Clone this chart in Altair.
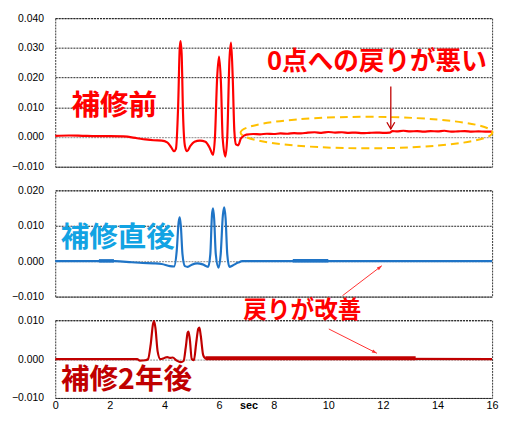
import altair as alt
import pandas as pd

# ---------------- data ----------------
# Panel 1: 補修前 (before repair)
t1 = [0.0, 0.5, 1.0, 1.5, 2.0, 2.5, 3.0, 3.3, 3.6, 3.9, 4.1, 4.25, 4.35, 4.42,
      4.50, 4.56, 4.59, 4.63, 4.68, 4.75, 4.83, 4.95, 5.1, 5.3, 5.5, 5.65, 5.78,
      5.85, 5.93, 6.0, 6.07, 6.13, 6.23, 6.30, 6.38, 6.44, 6.50, 6.56, 6.62, 6.70,
      6.8, 7.0, 7.25, 7.5, 7.75, 8.0, 8.25, 8.5, 8.75, 9.0, 9.25, 9.5, 9.75, 10.0,
      10.25, 10.5, 10.75, 11.0, 11.25, 11.5, 11.75, 12.0, 12.25, 12.35, 12.5, 12.75,
      13.0, 13.25, 13.5, 13.75, 14.0, 14.25, 14.5, 14.75, 15.0, 15.25, 15.5, 15.75, 16.0]
v1 = [0.0004, 0.0005, 0.0004, 0.0003, 0.0003, 0.0002, -0.0004, -0.0008, -0.0011, -0.0012,
      -0.0018, -0.0035, -0.0048, -0.0040,
      0.0100, 0.0300, 0.0323, 0.0280, 0.0080, -0.0030, -0.0048, -0.0030, -0.0016, -0.0012,
      -0.0016, -0.0035, -0.0060,
      0.0000, 0.0200, 0.0271, 0.0180, 0.0000, -0.0066, 0.0000, 0.0260, 0.0318, 0.0200,
      0.0020, -0.0025, -0.0028,
      -0.0005, 0.0008, 0.0010, 0.0009, 0.0011, 0.0010, 0.0012, 0.0011, 0.0013, 0.0012,
      0.0015, 0.0016, 0.0014, 0.0017,
      0.0015, 0.0016, 0.0014, 0.0015, 0.0013, 0.0014, 0.0015, 0.0014, 0.0015, 0.0020,
      0.0019, 0.0021,
      0.0019, 0.0020, 0.0018, 0.0020, 0.0019, 0.0021, 0.0018, 0.0019, 0.0020, 0.0018,
      0.0019, 0.0018, 0.0018]

# Panel 2: 補修直後 (just after repair)
t2 = [0.0, 1.6, 2.2, 2.8, 3.2, 3.6, 3.9, 4.2, 4.35, 4.45, 4.52, 4.56, 4.60, 4.66,
      4.75, 4.85, 5.0, 5.2, 5.4, 5.6, 5.68, 5.74, 5.78, 5.82, 5.88, 5.98, 6.06,
      6.14, 6.19, 6.24, 6.30, 6.38, 6.5, 6.7, 6.85, 16.0]
v2 = [0.0, 0.0, 0.0, -0.0003, -0.0005, -0.0006, -0.0008, -0.0014, -0.0015, 0.0030,
      0.0110, 0.0124, 0.0100, 0.0020,
      -0.0014, -0.0016, -0.0010, -0.0006, -0.0009, -0.0016, 0.0020, 0.0130, 0.0149,
      0.0120, 0.0020, -0.0018, 0.0020,
      0.0130, 0.0152, 0.0120, 0.0020, -0.0016, -0.0012, -0.0004, 0.0, 0.0]
band2_start = [1.6, 8.7]
band2_end = [2.15, 10.0]
band2_level = 0.0001

# Panel 3: 補修2年後 (two years after repair)
t3 = [0.0, 3.0, 3.1, 3.3, 3.4, 3.5, 3.58, 3.62, 3.67, 3.75, 3.85, 4.0, 4.1, 4.2,
      4.3, 4.45, 4.6, 4.7, 4.78, 4.85, 4.88, 4.93, 5.0, 5.08, 5.16, 5.24, 5.28,
      5.33, 5.42, 5.5, 16.0]
v3 = [0.0, 0.0, -0.0004, -0.0003, 0.0, 0.0040, 0.0090, 0.0098, 0.0080, 0.0020, 0.0,
      0.0003, 0.0005, 0.0003,
      0.0004, -0.0004, -0.0008, -0.0005, 0.0030, 0.0068, 0.0071, 0.0050, 0.0, -0.0003,
      0.0040, 0.0078, 0.0081,
      0.0060, 0.0010, 0.0002, 0.0]
band3_start = [5.5]
band3_end = [13.2]
band3_level = 0.0002

# axis ticks
x_ticks = [0, 2, 4, 6, 8, 10, 12, 14, 16]
y1_ticks = [-0.01, 0.0, 0.01, 0.02, 0.03, 0.04]
y2_ticks = [-0.01, 0.0, 0.01, 0.02]
y3_ticks = [-0.01, 0.0, 0.01]

# ---------------- helpers ----------------
LABEL_FONT = "Liberation Sans"
JP_FONT = "Noto Sans CJK JP"
xs = alt.Scale(domain=[0, 16], nice=False, zero=False)
W = 444
H1, H2, H3 = 151, 108, 79
GAP = 24
X_LABEL_PAD = 2


def yaxis(vals):
    return alt.Axis(
        values=vals, format=".3f", grid=True,
        gridColor=alt.condition("datum.value == 0", alt.value("#8a8a8a"), alt.value("#222222")),
        gridDash=[2, 1], gridWidth=1, ticks=False, domain=False,
        labelPadding=12, labelFontSize=10.5, labelFont=LABEL_FONT,
        labelColor="#000000", title=None,
    )


def encs(dom, ticks, show_x):
    if show_x:
        xa = alt.Axis(values=x_ticks, ticks=False, domain=False, grid=False,
                      labelPadding=X_LABEL_PAD, labelFontSize=11, labelFont=LABEL_FONT,
                      labelColor="#000000", labelFlush=False, title=None, format="d")
    else:
        xa = None
    x = alt.X("t:Q", scale=xs, axis=xa)
    y = alt.Y("v:Q", scale=alt.Scale(domain=dom, nice=False, zero=False), axis=yaxis(ticks))
    return x, y


def line(t, v, x, y, color, width):
    return alt.Chart(pd.DataFrame({"t": t, "v": v})).mark_line(
        color=color, strokeWidth=width, interpolate="monotone"
    ).encode(x=x, y=y)


def band(starts, ends, level, x, y, color, width):
    rows = []
    for i, (a, b) in enumerate(zip(starts, ends)):
        rows.append({"t": a, "v": level, "seg": i})
        rows.append({"t": b, "v": level, "seg": i})
    return alt.Chart(pd.DataFrame(rows)).mark_line(
        color=color, strokeWidth=width
    ).encode(x=x, y=y, detail="seg:N")


def label(text, t, v, x, y, color, size, weight="bold", font=JP_FONT, baseline="middle"):
    return alt.Chart(pd.DataFrame({"t": [t], "v": [v], "s": [text]})).mark_text(
        font=font, fontSize=size, fontWeight=weight, color=color,
        align="center", baseline=baseline
    ).encode(x=x, y=y, text="s:N")


def arrow(ta, va, tb, vb, x, y, color, width, head_shape, head_size, angle, filled):
    df = pd.DataFrame({"t": [ta], "v": [va], "t2": [tb], "v2": [vb]})
    shaft = alt.Chart(df).mark_rule(color=color, strokeWidth=width).encode(
        x=x, y=y, x2="t2:Q", y2="v2:Q")
    head = alt.Chart(pd.DataFrame({"t": [tb], "v": [vb]})).mark_point(
        shape=head_shape, size=head_size, angle=angle, filled=filled,
        color=color, strokeWidth=width, opacity=1
    ).encode(x=x, y=y)
    return shaft + head


TIP = "M 0 0 L -0.55 1.6 L 0.55 1.6 Z"          # filled head, tip at origin
VEE = "M -1 -1.7 L 0 0 L 1 -1.7"                 # open head, tip at origin
# wide ellipse drawn on a small symbol (so its bounding box stays small)
ELLIPSE = "M -8.0 0 A 8.0 1 0 1 1 8.0 0 A 8.0 1 0 1 1 -8.0 0 Z"

# ---------------- panel 1 ----------------
x1, y1 = encs([-0.01, 0.04], y1_ticks, False)
ell = alt.Chart(pd.DataFrame({"t": [11.4], "v": [0.0015]})).mark_point(
    shape=ELLIPSE, size=32 * 32, filled=False, color="#ffc000",
    strokeWidth=2, strokeDash=[8, 5], opacity=1
).encode(x=x1, y=y1)
p1 = alt.layer(
    line(t1, v1, x1, y1, "#ff0000", 2.2),
    ell,
    arrow(12.29, 0.017, 12.29, 0.0027, x1, y1, "#c00000", 1.3, VEE, 64, 0, False),
    label("補修前", 2.16, 0.0104, x1, y1, "#ff0000", 29),
    label("0点への戻りが悪い", 11.78, 0.0252, x1, y1, "#ff0000", 26),
).properties(width=W, height=H1)

# ---------------- panel 2 ----------------
x2, y2 = encs([-0.01, 0.02], y2_ticks, False)
p2 = alt.layer(
    line(t2, v2, x2, y2, "#1f74c6", 2.2),
    band(band2_start, band2_end, band2_level, x2, y2, "#1f74c6", 3.5),
    arrow(10.52, -0.00974, 11.96, -0.00128, x2, y2, "#ff3030", 1, TIP, 40, 52, True),
    label("補修直後", 2.29, 0.0065, x2, y2, "#12a3e3", 29),
).properties(width=W, height=H2)

# ---------------- panel 3 ----------------
x3, y3 = encs([-0.01, 0.01], y3_ticks, True)
p3 = alt.layer(
    line(t3, v3, x3, y3, "#c00000", 2.2),
    band(band3_start, band3_end, band3_level, x3, y3, "#c00000", 4),
    arrow(10.02, 0.00775, 11.78, 0.0015, x3, y3, "#ff3030", 1, TIP, 40, 117, True),
    label("補修2年後", 2.61, -0.0055, x3, y3, "#c00000", 29),
    label("戻りが改善", 9.05, 0.01225, x3, y3, "#ff0000", 24),
    label("sec", 7.1, -0.0105, x3, y3, "#000000", 11, "bold", LABEL_FONT, "top"),
).properties(width=W, height=H3)

chart = alt.vconcat(p1, p2, p3, spacing=GAP, bounds="flush").properties(
    padding={"left": 3, "top": 1, "right": 0, "bottom": 0},
    background="#ffffff",
).configure_view(
    stroke="#333333", strokeDash=[2, 1], strokeWidth=1
)

chart.save("out.html", embed_options={"renderer": "svg", "actions": False})
